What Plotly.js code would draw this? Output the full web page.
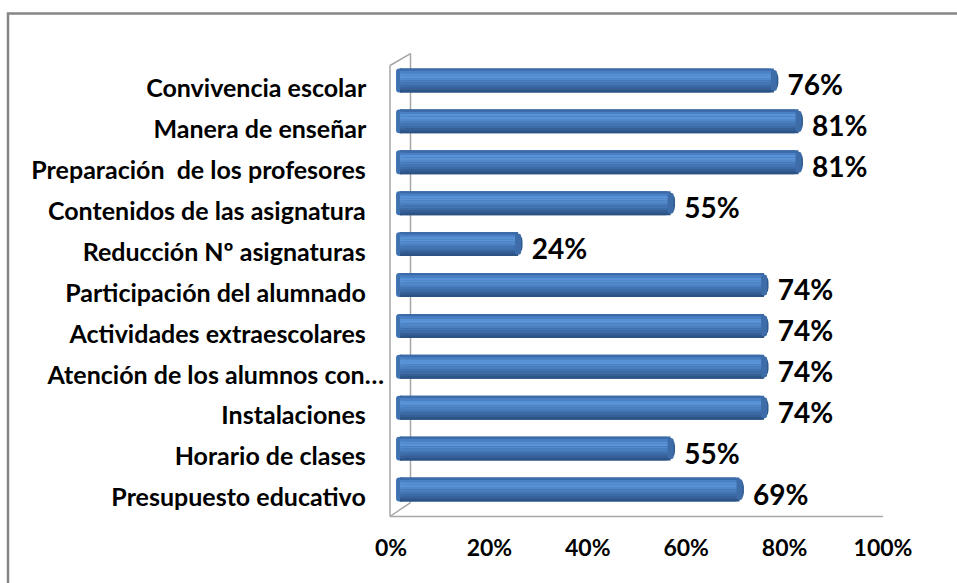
<!DOCTYPE html>
<html>
<head>
<meta charset="utf-8">
<script src="https://cdn.plot.ly/plotly-3.0.1.min.js"></script>
<style>html,body{margin:0;padding:0;background:#fff;}#chart{width:957px;height:583px;}</style>
</head>
<body>
<div id="chart"></div>
<script>
// Data (bottom to top)
const categories = [
  "Presupuesto educativo",
  "Horario de clases",
  "Instalaciones",
  "Atención de los alumnos con…",
  "Actividades extraescolares",
  "Participación del alumnado",
  "Reducción Nº asignaturas",
  "Contenidos de las asignatura",
  "Preparación  de los profesores",
  "Manera de enseñar",
  "Convivencia escolar"
];
const values = [0.69, 0.55, 0.74, 0.74, 0.74, 0.74, 0.24, 0.55, 0.81, 0.81, 0.76];
const xTicks = [0, 0.2, 0.4, 0.6, 0.8, 1.0];

// Layout geometry
const W = 957, H = 583;
const L = 391, R = 74, T = 67.5, B = 64.5;
const PW = W - L - R, PH = H - T - B;
const px = X => (X - L) / PW;
const py = Y => 1 - (Y - T) / PH;
const xShift = 9 / PW;          // depth offset of bars (x)
const yShift = 8 / (PH / 11);   // depth offset of bars (y, in category units)

const FONT = "Lato, 'Open Sans', sans-serif";
const pad = "\u00a0\u00a0\u00a0";
const tickText = categories.map(c => c.endsWith("…") ? c : c + pad);

// cylinder shading bands (top -> bottom)
const barW = 0.585, half = barW / 2;
const bandColors = ["#3B6BA8", "#4B81C4", "#5892D6", "#5A93D6", "#5189CB", "#4A7FC0", "#4375B4", "#3C6BA6", "#355F96", "#2D5385"];
const nb = bandColors.length, bh = barW / nb;

const traces = [];
// invisible trace to create the x/y subplot (tick labels)
traces.push({type: "scatter", mode: "markers", x: [0], y: [categories[0]],
  marker: {opacity: 0}, hoverinfo: "skip", showlegend: false});

// base bar with rounded end cap
traces.push({
  type: "bar", orientation: "h",
  x: values.map(v => v + 0.009), y: categories,
  xaxis: "x2", yaxis: "y2",
  width: barW, offset: -half,
  marker: {color: "#2E5A8E", line: {width: 0}, cornerradius: 9},
  hoverinfo: "skip", showlegend: false
});
// rounded start (negative-direction stub)
traces.push({
  type: "bar", orientation: "h",
  x: values.map(() => -0.016), base: values.map(() => 0.008), y: categories,
  xaxis: "x2", yaxis: "y2",
  width: barW, offset: -half,
  marker: {color: "#3F72B0", line: {width: 0}, cornerradius: 8},
  hoverinfo: "skip", showlegend: false
});
bandColors.forEach((c, i) => {
  traces.push({
    type: "bar", orientation: "h",
    x: values, y: categories,
    xaxis: "x2", yaxis: "y2",
    width: bh + 0.002, offset: half - (i + 1) * bh,
    marker: {color: c, line: {width: 0}},
    hoverinfo: "skip", showlegend: false
  });
});
// end cap face
traces.push({
  type: "bar", orientation: "h",
  x: values.map(() => 0.012), base: values.map(v => v - 0.006), y: categories,
  xaxis: "x2", yaxis: "y2",
  width: barW * 0.86, offset: -half * 0.86,
  marker: {color: "#3D6CA9", line: {width: 0}, cornerradius: 5},
  hoverinfo: "skip", showlegend: false
});

traces.push({
  type: "scatter", mode: "text",
  x: values, y: categories,
  xaxis: "x2", yaxis: "y",
  text: values.map(v => "\u00a0\u00a0" + Math.round(v * 100) + "%"),
  textposition: "middle right",
  textfont: {family: FONT, size: 28, color: "#000", weight: "bold"},
  hoverinfo: "skip", showlegend: false, cliponaxis: false
});

const wallColor = "#A6A6A6";
const ln = (x0, y0, x1, y1) => ({
  type: "line", xref: "paper", yref: "paper",
  x0: px(x0), y0: py(y0), x1: px(x1), y1: py(y1),
  line: {color: wallColor, width: 1.5}, layer: "below"
});

const shapes = [
  {type: "rect", xref: "paper", yref: "paper",
   x0: px(8), y0: py(13), x1: px(980), y1: py(610),
   line: {color: "#868686", width: 2.5}, layer: "below"},
  ln(390, 65, 390, 517),
  ln(410.5, 53, 410.5, 503),
  ln(390, 65, 410.5, 53),
  ln(390, 517, 410.5, 503),
  ln(390, 517, 883, 517)
];

const layout = {
  width: W, height: H,
  margin: {l: L, r: R, t: T, b: B, pad: 0},
  paper_bgcolor: "#fff",
  plot_bgcolor: "rgba(0,0,0,0)",
  barmode: "overlay",
  showlegend: false,
  font: {family: FONT, color: "#000"},
  xaxis: {
    range: [0, 1],
    tickvals: xTicks,
    tickformat: ".0%",
    showgrid: false, zeroline: false, showline: false,
    ticks: "",
    ticklabelstandoff: 14,
    tickfont: {family: FONT, size: 23, color: "#000", weight: "bold"},
    fixedrange: true
  },
  xaxis2: {
    overlaying: "x",
    range: [-xShift, 1 - xShift],
    visible: false, fixedrange: true
  },
  yaxis: {
    type: "category",
    categoryorder: "array",
    categoryarray: categories,
    tickvals: categories,
    ticktext: tickText,
    range: [-0.5, 10.5],
    showgrid: false, zeroline: false, showline: false,
    ticks: "",
    ticklabelstandoff: 6,
    tickfont: {family: FONT, size: 25, color: "#000", weight: "bold"},
    fixedrange: true
  },
  yaxis2: {
    overlaying: "y",
    type: "category",
    categoryorder: "array",
    categoryarray: categories,
    range: [-0.5 - yShift, 10.5 - yShift],
    visible: false, fixedrange: true
  },
  shapes: shapes
};

Plotly.newPlot("chart", traces, layout, {staticPlot: true, displayModeBar: false});
</script>
</body>
</html>
